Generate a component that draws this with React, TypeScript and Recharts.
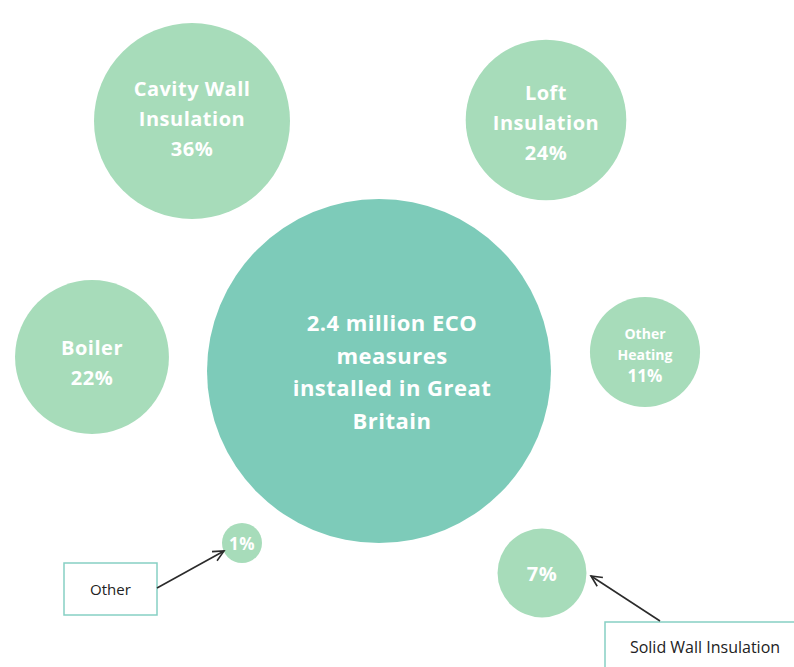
import { ScatterChart, Scatter, XAxis, YAxis, ZAxis } from "recharts";

// shares of ECO measures (per cent of all measures installed)
const measures = ["Cavity Wall Insulation", "Loft Insulation", "Boiler", "Other Heating", "Other", "Solid Wall Insulation"];
const shares = [36, 24, 22, 11, 1, 7];
const bubbleText = [["Cavity Wall", "Insulation"], ["Loft", "Insulation"], ["Boiler"], ["Other", "Heating"], [], []];
const hubText = ["2.4 million ECO", "measures", "installed in Great", "Britain"];

// layout (chart units = pixels)
const posX = [192, 546, 92, 645, 242, 542];
const posY = [121, 120, 357, 352, 543, 573];
const hubPos = { x: 379, y: 371 };
const fontSizes = [20, 20, 20, 14, 17, 20];
const textShift = [-3, 2, 5, 2, 0, 0];
// callouts: box offset from bubble centre, arrow start/end offsets
const callouts: Record<string, { box: number[]; from: number[]; to: number[] }> = {
  Other: { box: [-178, 20, 93, 52], from: [-85, 45], to: [-18, 8] },
  "Solid Wall Insulation": { box: [63, 49, 200, 80], from: [118, 48], to: [49, 3] },
};

const W = 794;
const H = 667;
const FONT = "'Open Sans', Lato, sans-serif";
const bubbleFill = "#a7dcba";
const hubFill = "#7dcbb9";
const boxStroke = "#86d0c4";

const data = measures.map((name, i) => ({
  name,
  share: shares[i],
  x: posX[i],
  y: posY[i],
  lines: [...bubbleText[i], `${shares[i]}%`],
  fontSize: fontSizes[i],
  shift: textShift[i],
  dx: 0,
}));

const hubData = [{ name: "All measures", x: hubPos.x, y: hubPos.y, size: 1, lines: hubText, fontSize: 22, shift: 0, dx: 13 }];

const Arrow = ({ x1, y1, x2, y2 }: { x1: number; y1: number; x2: number; y2: number }) => {
  const a = Math.atan2(y2 - y1, x2 - x1);
  const len = 12;
  const spread = 0.45;
  const p1 = [x2 - len * Math.cos(a - spread), y2 - len * Math.sin(a - spread)];
  const p2 = [x2 - len * Math.cos(a + spread), y2 - len * Math.sin(a + spread)];
  return (
    <g stroke="#2b2b2b" strokeWidth={1.6} fill="none">
      <line x1={x1} y1={y1} x2={x2} y2={y2} />
      <polyline points={`${p1[0]},${p1[1]} ${x2},${y2} ${p2[0]},${p2[1]}`} />
    </g>
  );
};

const renderBubble = (fill: string) => (props: any) => {
  const { cx, cy, width, payload } = props;
  const r = width / 2;
  const fs = payload.fontSize;
  const lines: string[] = payload.lines;
  const small = fs < 18 && lines.length > 1;
  const c = callouts[payload.name];
  const lh = fs >= 22 ? 32.5 : small ? 21 : 30;
  const startY = cy + payload.shift - ((lines.length - 1) * lh) / 2;
  return (
    <g>
      <circle cx={cx} cy={cy} r={r} fill={fill} />
      {lines.map((t, k) => (
        <text
          key={k}
          x={cx + payload.dx}
          y={startY + k * lh}
          textAnchor="middle"
          dominantBaseline="central"
          fill="#ffffff"
          fontFamily={FONT}
          fontWeight={700}
          letterSpacing={small ? 0 : 0.5}
          fontSize={small && k === lines.length - 1 ? 17 : fs}
        >
          {t}
        </text>
      ))}
      {c && (
        <g>
          <rect
            x={cx + c.box[0]}
            y={cy + c.box[1]}
            width={c.box[2]}
            height={c.box[3]}
            fill="#ffffff"
            stroke={boxStroke}
            strokeWidth={1.5}
          />
          <text
            x={cx + c.box[0] + c.box[2] / 2}
            y={cy + c.box[1] + (payload.name === "Other" ? c.box[3] / 2 : 25)}
            textAnchor="middle"
            dominantBaseline="central"
            fill="#222"
            fontFamily={FONT}
            fontSize={payload.name === "Other" ? 15 : 16}
          >
            {payload.name}
          </text>
          <Arrow x1={cx + c.from[0]} y1={cy + c.from[1]} x2={cx + c.to[0]} y2={cy + c.to[1]} />
        </g>
      )}
    </g>
  );
};

export default function App() {
  return (
    <div style={{ position: "absolute", left: 0, top: 0, width: W, height: H, background: "#fff" }}>
      <ScatterChart width={W} height={H} margin={{ top: 0, right: 0, bottom: 0, left: 0 }}>
        <XAxis type="number" dataKey="x" domain={[0, W]} hide />
        <YAxis type="number" dataKey="y" domain={[0, H]} reversed hide />
        <ZAxis type="number" dataKey="share" domain={[0, 36]} range={[430, 30172]} />
        <ZAxis type="number" dataKey="size" zAxisId="hub" domain={[0, 1]} range={[0, 92940]} />
        <Scatter data={hubData} zAxisId="hub" isAnimationActive={false} shape={renderBubble(hubFill)} />
        <Scatter data={data} isAnimationActive={false} shape={renderBubble(bubbleFill)} />
      </ScatterChart>
    </div>
  );
}
